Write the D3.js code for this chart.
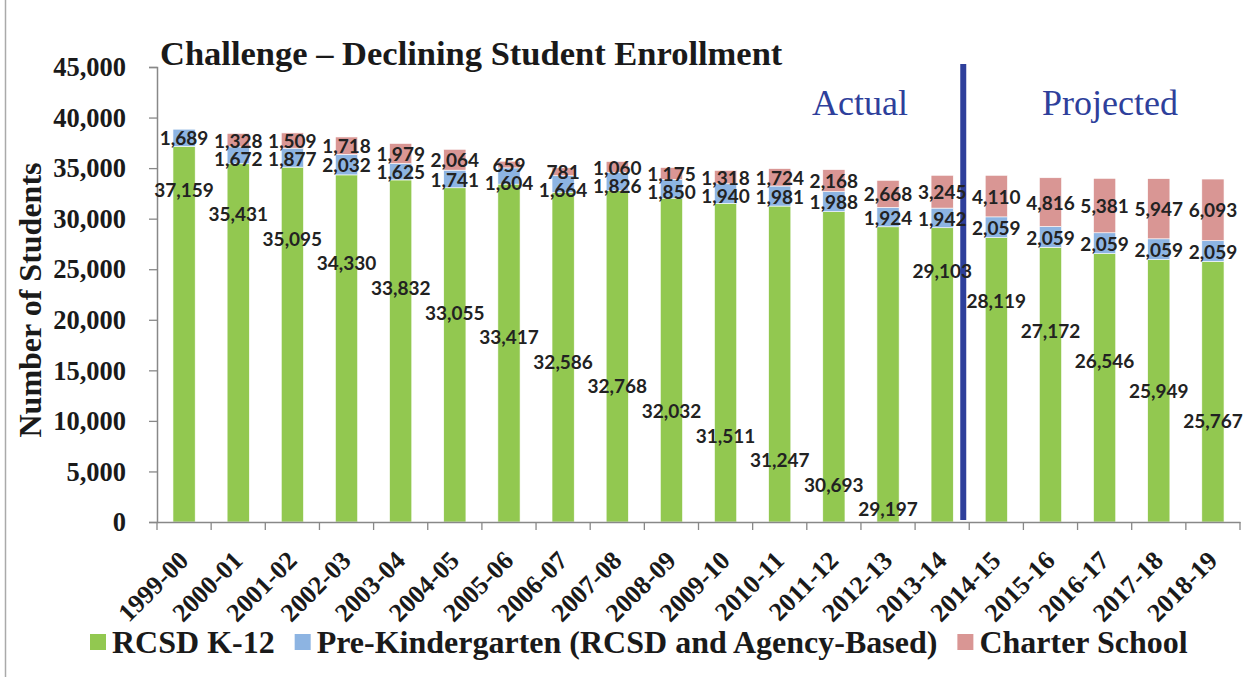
<!DOCTYPE html>
<html>
<head>
<meta charset="utf-8">
<script src="https://cdn.jsdelivr.net/npm/d3@7"></script>
<style>
  html, body { margin: 0; padding: 0; background: #fff; }
  svg { display: block; }
</style>
</head>
<body>
<svg id="chart" width="1244" height="677"></svg>
<script>
const years = ['1999-00', '2000-01', '2001-02', '2002-03', '2003-04', '2004-05', '2005-06',
	'2006-07', '2007-08', '2008-09', '2009-10', '2010-11', '2011-12', '2012-13', '2013-14',
	'2014-15', '2015-16', '2016-17', '2017-18', '2018-19']
const k12 = [37159, 35431, 35095, 34330, 33832, 33055, 33417, 32586, 32768, 32032,
	31511, 31247, 30693, 29197, 29103, 28119, 27172, 26546, 25949, 25767]
const preK = [1689, 1672, 1877, 2032, 1625, 1741, 1604, 1664, 1826, 1850,
	1940, 1981, 1988, 1924, 1942, 2059, 2059, 2059, 2059, 2059]
const charter = [0, 1328, 1509, 1718, 1979, 2064, 659, 781, 1060, 1175,
	1318, 1724, 2168, 2668, 3245, 4110, 4816, 5381, 5947, 6093]
const seriesNames = ['RCSD K-12', 'Pre-Kindergarten (RCSD and Agency-Based)', 'Charter School']
const yTicks = [0, 5000, 10000, 15000, 20000, 25000, 30000, 35000, 40000, 45000]
const firstProjected = '2014-15'

const colors = ['#92c850', '#8db4e2', '#d99694']
const serif = '"Liberation Serif", "Times New Roman", serif'
const sans = 'Lato, "Open Sans", sans-serif'

const svg = d3.select('#chart')

// slide frame edge on the left
svg.append('line')
	.attr('x1', 5.5).attr('x2', 5.5).attr('y1', 0).attr('y2', 677)
	.attr('stroke', '#aaa').attr('stroke-width', 1.5)

const x = d3.scaleBand().domain(years).range([157, 1240])
const y = d3.scaleLinear().domain([0, 45000]).range([522, 67])
const barW = x.bandwidth() * 0.41
const mid = d => x(d) + x.bandwidth() / 2

const rows = years.map((yr, i) => ({ yr, i, vals: [k12[i], preK[i], charter[i]] }))
const stack = d3.stack().keys([0, 1, 2]).value((d, k) => d.vals[k])(rows)

// axes
const yAxis = svg.append('g').attr('transform', 'translate(157,0)')
	.call(d3.axisLeft(y).tickValues(yTicks).tickSize(8).tickFormat(''))
yAxis.selectAll('.tick line').attr('stroke', '#888').attr('stroke-width', 1.3)

// bars
const layers = svg.append('g').attr('id', 'bars')
	.selectAll('g').data(stack).join('g')
	.attr('fill', (d, k) => colors[k])

layers.selectAll('rect').data(d => d.filter(s => s[1] > s[0])).join('rect')
	.attr('x', s => mid(s.data.yr) - barW / 2)
	.attr('width', barW)
	.attr('y', s => y(s[1]))
	.attr('height', s => y(s[0]) - y(s[1]))
	.attr('stroke', '#fff').attr('stroke-width', 0.6)

const xAxis = svg.append('g').attr('transform', 'translate(0,522)')
	.call(d3.axisBottom(x).tickSize(0).tickFormat(''))
xAxis.selectAll('.tick').remove()
xAxis.append('g').selectAll('line').data(d3.range(years.length + 1)).join('line')
	.attr('x1', i => x.range()[0] + i * x.step()).attr('x2', i => x.range()[0] + i * x.step())
	.attr('y1', 0).attr('y2', 8)
	.attr('stroke', '#888').attr('stroke-width', 1.3)
svg.selectAll('.domain').attr('stroke', '#888').attr('stroke-width', 1.5)

svg.append('g').selectAll('text').data(yTicks).join('text')
	.attr('x', 126).attr('y', d => y(d)).attr('dy', '0.35em')
	.attr('text-anchor', 'end')
	.attr('font-family', serif).attr('font-weight', 'bold').attr('font-size', 26.5)
	.attr('fill', '#1a1a1a')
	.text(d3.format(','))

svg.append('g').selectAll('text').data(years).join('text')
	.attr('transform', d => `translate(${mid(d) + 6},562) rotate(-45)`)
	.attr('text-anchor', 'end')
	.attr('font-family', serif).attr('font-weight', 'bold').attr('font-size', 26)
	.attr('fill', '#1a1a1a')
	.text(d => d)

svg.append('text')
	.attr('transform', 'translate(41,300) rotate(-90)')
	.attr('text-anchor', 'middle')
	.attr('font-family', serif).attr('font-weight', 'bold').attr('font-size', 32)
	.attr('fill', '#1a1a1a')
	.text('Number of Students')

// title
svg.append('text')
	.attr('x', 160).attr('y', 65)
	.attr('font-family', serif).attr('font-weight', 'bold').attr('font-size', 34.5)
	.attr('fill', '#1a1a1a')
	.text('Challenge \u2013 Declining Student Enrollment')

// actual / projected divider
const splitX = x(firstProjected) - 6
svg.append('line')
	.attr('x1', splitX).attr('x2', splitX).attr('y1', 64).attr('y2', 520)
	.attr('stroke', '#2e3f9b').attr('stroke-width', 6)
svg.append('text')
	.attr('x', 860).attr('y', 115).attr('text-anchor', 'middle')
	.attr('font-family', serif).attr('font-size', 36).attr('fill', '#2e3f9b')
	.text('Actual')
svg.append('text')
	.attr('x', 1110).attr('y', 115).attr('text-anchor', 'middle')
	.attr('font-family', serif).attr('font-size', 36).attr('fill', '#2e3f9b')
	.text('Projected')

// data labels
const fmt = d3.format(',')
const labels = svg.append('g')
	.attr('font-family', sans).attr('font-weight', 'bold').attr('font-size', 19)
	.attr('fill', '#222').attr('text-anchor', 'middle')

// K-12 labels were hand placed in the original: two descending diagonal runs,
// the second one starting at the last actual year
const runIdx = years.indexOf(firstProjected) - 1
const k12LabelY = i => i < runIdx ? 190 + i * 24.6 : 271 + (i - runIdx) * 30
labels.selectAll('text.k12').data(rows).join('text').attr('class', 'k12')
	.attr('x', d => mid(d.yr))
	.attr('y', d => k12LabelY(d.i)).attr('dy', '0.35em')
	.text(d => fmt(d.vals[0]))

// charter labels sit centred in their segment; pre-K labels are centred too,
// but pushed down when they would run into the charter label above
const segMid = s => (y(s[0]) + y(s[1])) / 2
const charterY = stack[2].map(s => segMid(s))
const segs = stack.slice(1).flatMap((l, k) => l.filter(s => s[1] > s[0]).map(s => ({ s, k })))
labels.selectAll('text.seg').data(segs)
	.join('text').attr('class', 'seg')
	.attr('x', d => mid(d.s.data.yr))
	.attr('y', d => {
		const c = segMid(d.s) + 1
		if (d.k === 1 || d.s.data.vals[2] === 0) return c
		return Math.max(c, charterY[d.s.data.i] + 19)
	})
	.attr('dy', '0.35em')
	.text(d => fmt(d.s[1] - d.s[0]))

// legend
const legend = svg.append('g').attr('transform', 'translate(90,642)')
let lx = 0
seriesNames.forEach((name, k) => {
	legend.append('rect').attr('x', lx).attr('y', -8).attr('width', 16).attr('height', 16)
		.attr('fill', colors[k])
	const t = legend.append('text').attr('x', lx + 22).attr('y', 0).attr('dy', '0.33em')
		.attr('font-family', serif).attr('font-weight', 'bold').attr('font-size', 32)
		.attr('fill', '#1a1a1a')
		.text(name)
	lx += 22 + t.node().getComputedTextLength() + 20
})
</script>
</body>
</html>
